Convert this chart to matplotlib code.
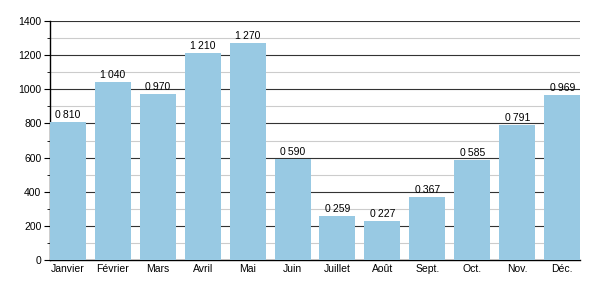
import matplotlib
matplotlib.use('Agg')
import matplotlib.pyplot as plt
from matplotlib.ticker import MultipleLocator

# monthly values (French labels)
months = ['Janvier', 'Février', 'Mars', 'Avril', 'Mai', 'Juin',
          'Juillet', 'Août', 'Sept.', 'Oct.', 'Nov.', 'Déc.']
values = [810, 1040, 970, 1210, 1270, 590, 259, 227, 367, 585, 791, 969]
labels = ['0\u2009810', '1\u2009040', '0\u2009970', '1\u2009210', '1\u2009270', '0\u2009590',
          '0\u2009259', '0\u2009227', '0\u2009367', '0\u2009585', '0\u2009791', '0\u2009969']

plt.rcParams['font.family'] = ['Liberation Sans', 'DejaVu Sans']

fig = plt.figure(figsize=(6, 3), dpi=100)
ax = fig.add_axes([0.083, 0.133, 0.884, 0.797])

x = range(len(months))
ax.bar(x, values, width=0.8, color='#98c9e3', zorder=3)
for i, v in enumerate(values):
    ax.text(i, v + 12, labels[i], ha='center', va='bottom', fontsize=7.5, zorder=4)

ax.set_xlim(-0.4, len(months) - 0.6)
ax.set_ylim(0, 1400)
ax.set_xticks(list(x))
ax.set_xticklabels(months)
ax.yaxis.set_major_locator(MultipleLocator(200))
ax.yaxis.set_minor_locator(MultipleLocator(100))
ax.grid(axis='y', which='major', color='#333333', linewidth=0.8, zorder=1)
ax.grid(axis='y', which='minor', color='#cccccc', linewidth=0.8, zorder=1)
ax.tick_params(axis='x', length=0, labelsize=7.5, pad=3)
ax.tick_params(axis='y', which='major', length=4, labelsize=7.5, pad=2)
ax.tick_params(axis='y', which='minor', length=2)
for s in ['top', 'right']:
    ax.spines[s].set_visible(False)
ax.spines['left'].set_linewidth(1)
ax.spines['bottom'].set_linewidth(1)

fig.savefig('out.png', dpi=100)
